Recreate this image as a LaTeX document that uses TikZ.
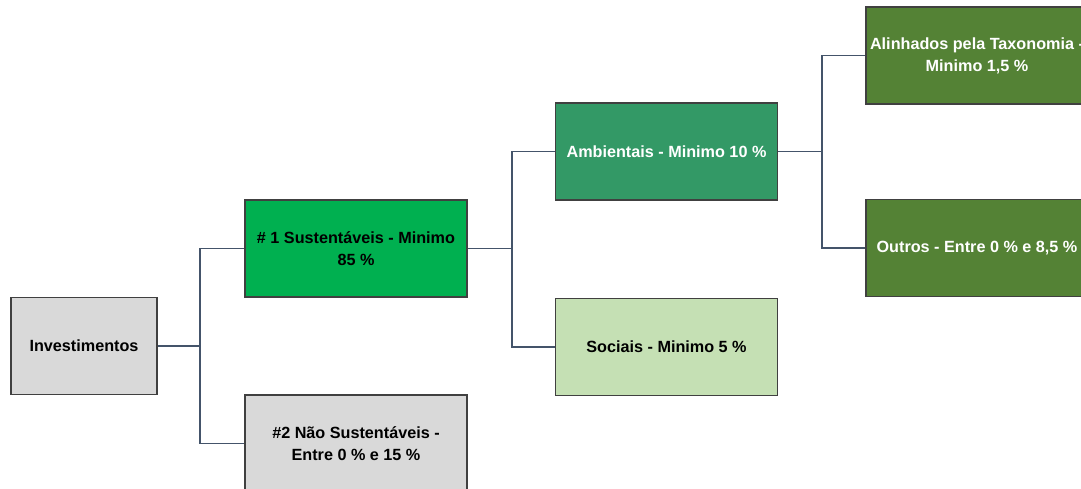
\documentclass[tikz,border=0pt]{standalone}
\usepackage{fontspec}
\setmainfont{Liberation Sans}
\definecolor{boxgray}{HTML}{D9D9D9}
\definecolor{susgreen}{HTML}{00B050}
\definecolor{ambgreen}{HTML}{339966}
\definecolor{socgreen}{HTML}{C5E0B4}
\definecolor{taxgreen}{HTML}{548235}
\definecolor{boxline}{HTML}{404040}
\definecolor{linkcol}{HTML}{44546A}
\tikzset{
    box/.style={draw=boxline, line width=1.3pt, minimum width=222pt, minimum height=97pt,
        inner sep=0pt, align=center, font=\fontsize{16.2}{22}\selectfont\bfseries},
    link/.style={draw=linkcol, line width=1.3pt}
}

\begin{document}
\begin{tikzpicture}[x=1pt, y=-1pt]
    \path[use as bounding box, clip] (0,0) rectangle (1081,488);
    \fill[white] (0,0) rectangle (1081,488);
    \node[box, fill=boxgray, minimum width=146pt] (inv) at (84,346) {Investimentos};
    \node[box, fill=susgreen] (sus) at (356,248.5) {\# 1 Sustentáveis - Minimo\\85 \%};
    \node[box, fill=boxgray] (nao) at (356,443.5) {\#2 Não Sustentáveis -\\Entre 0 \% e 15 \%};
    \node[box, fill=ambgreen, text=white] (amb) at (666.5,151.5) {Ambientais - Minimo 10 \%};
    \node[box, fill=socgreen] (soc) at (666.5,347) {Sociais - Minimo 5 \%};
    \node[box, fill=taxgreen, text=white] (ali) at (977,55.5) {Alinhados pela Taxonomia -\\Minimo 1,5 \%};
    \node[box, fill=taxgreen, text=white] (out) at (977,248) {Outros - Entre 0 \% e 8,5 \%};
    \coordinate (j1) at (200,346);
    \coordinate (j2) at (512,248.5);
    \coordinate (j3) at (822,151.5);
    \draw[link] (inv.east) -- (j1) |- (sus.west);
    \draw[link] (j1) |- (nao.west);
    \draw[link] (sus.east) -- (j2) |- (amb.west);
    \draw[link] (j2) |- (soc.west);
    \draw[link] (amb.east) -- (j3) |- (ali.west);
    \draw[link] (j3) |- (out.west);
\end{tikzpicture}
\end{document}
